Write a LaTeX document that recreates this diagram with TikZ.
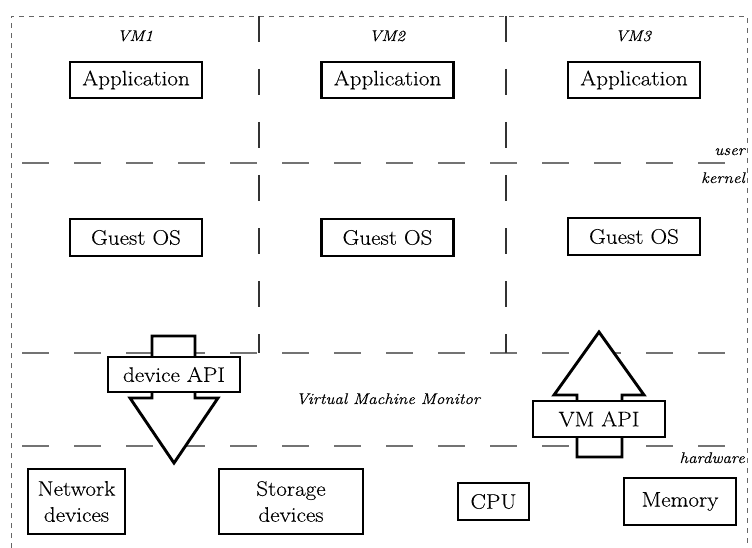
\documentclass[tikz,border=0pt]{standalone}
\usepackage{fontspec}
\setmainfont{Latin Modern Roman}[FakeStretch=1.1,FakeBold=0.2]
\begin{document}
\begin{tikzpicture}[x=1pt,y=-1pt,
  box/.style={draw=black,line width=2.9pt,fill=white,inner sep=0pt,align=center,font=\fontsize{21}{26}\selectfont},
  lab/.style={inner sep=0pt,font=\fontsize{15.5}{18}\selectfont\itshape},
  layer/.style={draw=black!55,line width=1.6pt,dash pattern=on 27pt off 25pt},
  vsep/.style={draw=black!80,line width=1.1pt,dash pattern=on 26pt off 27pt},
  outer/.style={draw=black!60,line width=0.8pt,dash pattern=on 5pt off 5pt},
  bigarrow/.style={draw=black,line width=2.9pt,fill=white,line join=miter}]
\useasboundingbox (0,0) rectangle (752,548);
% outer frame
\coordinate (o1) at (11,548);
\coordinate (o2) at (11,16);
\coordinate (o3) at (747,16);
\coordinate (o4) at (747,548);
\draw[outer] (o1) -- (o2) -- (o3) -- (o4);
% layer separators
\coordinate (h1a) at (22,163); \coordinate (h1b) at (727,163);
\coordinate (h2a) at (22,353); \coordinate (h2b) at (727,353);
\coordinate (h3a) at (22,446); \coordinate (h3b) at (727,446);
\draw[layer] (h1a) -- (h1b);
\draw[layer] (h2a) -- (h2b);
\draw[layer] (h3a) -- (h3b);
% VM separators
\coordinate (v1a) at (259,16); \coordinate (v1b) at (259,353);
\coordinate (v2a) at (506,16); \coordinate (v2b) at (506,353);
\draw[vsep] (v1a) -- (v1b);
\draw[vsep] (v2a) -- (v2b);
% labels
\node[lab,anchor=base] (vm1) at (135,41) {VM1};
\node[lab,anchor=base] (vm2) at (387,41) {VM2};
\node[lab,anchor=base] (vm3) at (633,41) {VM3};
\node[lab,anchor=base east] (user) at (745,155) {user};
\node[lab,anchor=base east] (kernel) at (745,183) {kernel};
\node[lab,anchor=base east] (hw) at (745,463) {hardware};
\node[lab,anchor=base] (vmm) at (388,404) {Virtual Machine Monitor};
% arrows
\draw[bigarrow] (152,336) -- (195,336) -- (195,398) -- (218,398) -- (174,463) -- (130,398) -- (152,398) -- cycle;
\draw[bigarrow] (599,332) -- (644,395) -- (622,395) -- (622,457) -- (577,457) -- (577,395) -- (554,395) -- cycle;
% boxes
\node[box,minimum width=132pt,minimum height=36pt] (app1) at (136,80) {Application};
\node[box,minimum width=132pt,minimum height=36pt] (app2) at (387.5,80) {Application};
\node[box,minimum width=132pt,minimum height=36pt] (app3) at (634,80) {Application};
\node[box,minimum width=132pt,minimum height=37pt] (os1) at (136,237.5) {Guest OS};
\node[box,minimum width=132pt,minimum height=37pt] (os2) at (387.5,237.5) {Guest OS};
\node[box,minimum width=132pt,minimum height=37pt] (os3) at (634,236.5) {Guest OS};
\node[box,minimum width=132pt,minimum height=35pt] (dapi) at (174,374.5) {device API};
\node[box,minimum width=132pt,minimum height=36pt] (vmapi) at (599,419) {VM API};
\node[box,minimum width=97pt,minimum height=65pt] (net) at (76.5,501.5) {Network\\devices};
\node[box,minimum width=144pt,minimum height=65pt] (sto) at (291,501.5) {Storage\\devices};
\node[box,minimum width=71pt,minimum height=37pt] (cpu) at (493.5,501.5) {CPU};
\node[box,minimum width=112pt,minimum height=47pt] (mem) at (680,501.5) {Memory};
\end{tikzpicture}
\end{document}
